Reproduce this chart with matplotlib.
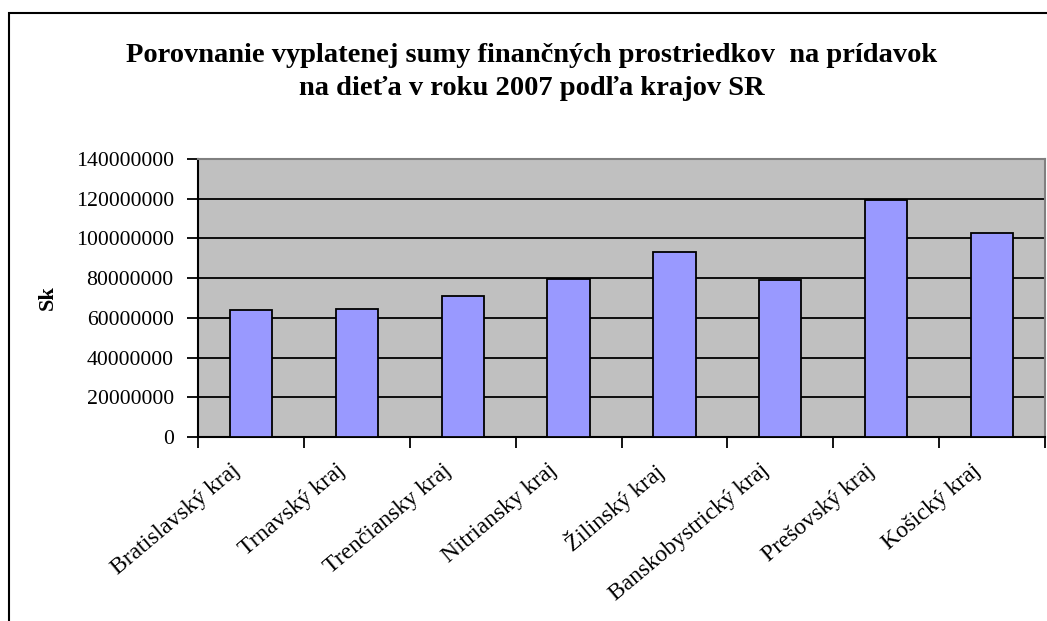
import matplotlib
matplotlib.use("Agg")
import matplotlib.pyplot as plt
from matplotlib.patches import Rectangle
from matplotlib.transforms import ScaledTranslation

regions = ["Bratislavský kraj", "Trnavský kraj", "Trenčiansky kraj", "Nitriansky kraj",
           "Žilinský kraj", "Banskobystrický kraj", "Prešovský kraj", "Košický kraj"]
values = [64.2e6, 64.3e6, 71.1e6, 79.6e6, 93.3e6, 78.9e6, 119.5e6, 102.6e6]
yticks = [0, 20000000, 40000000, 60000000, 80000000, 100000000, 120000000, 140000000]
title_lines = ["Porovnanie vyplatenej sumy finančných prostriedkov  na prídavok",
               "na dieťa v roku 2007 podľa krajov SR"]
ylabel = "Sk"

plt.rcParams['font.family'] = ['Liberation Serif', 'DejaVu Serif']

W, H = 1047, 621
fig = plt.figure(figsize=(W / 100, H / 100), dpi=100)
fig.patch.set_facecolor('white')

# outer chart frame (top and left visible, rest cropped)
fig.patches.append(Rectangle((9 / W, -0.1), 1.2, (H - 13) / H + 0.1, transform=fig.transFigure,
                             fill=False, edgecolor='black', linewidth=1.5, zorder=0))

ax = fig.add_axes([198 / W, 1 - 437 / H, (1045 - 198) / W, (437 - 159) / H])
ax.set_facecolor('#C0C0C0')

x = list(range(len(regions)))
ax.bar(x, values, width=0.4, color='#9999FF', edgecolor='black', linewidth=1.3, zorder=3)

ax.set_xlim(-0.5, len(regions) - 0.5)
ax.set_ylim(0, 140000000)
ax.set_yticks(yticks)
ax.set_yticklabels([str(v) for v in yticks], fontsize=15.7)
ax.yaxis.grid(True, color='black', linewidth=1.3, zorder=1)
ax.set_axisbelow(True)

ax.set_xticks([i - 0.5 for i in range(len(regions) + 1)])
ax.set_xticklabels([])
ax.tick_params(axis='x', which='major', length=8, width=1.3, direction='out')
ax.tick_params(axis='y', length=8, width=1.3, direction='out', pad=9.5)

# category labels, rotated, anchored at their end just below the axis
offset = ScaledTranslation(-14 / 100, -31 / 100, fig.dpi_scale_trans)
for xi, name in zip(x, regions):
    ax.text(xi, 0, name, transform=ax.get_xaxis_transform() + offset,
            rotation=40, rotation_mode='anchor', ha='right', va='center',
            fontsize=17, clip_on=False)

for s in ['left', 'bottom']:
    ax.spines[s].set_color('black')
    ax.spines[s].set_linewidth(1.5)
for s in ['top', 'right']:
    ax.spines[s].set_color('#808080')
    ax.spines[s].set_linewidth(1.5)

ax.set_ylabel(ylabel, fontsize=16, fontweight='bold', labelpad=13)

for i, (line, ybase) in enumerate(zip(title_lines, [62, 95])):
    fig.text(532 / W, 1 - ybase / H, line, ha='center', va='baseline', fontsize=20.5,
             fontweight='bold')

fig.savefig('out.png', dpi=100)
